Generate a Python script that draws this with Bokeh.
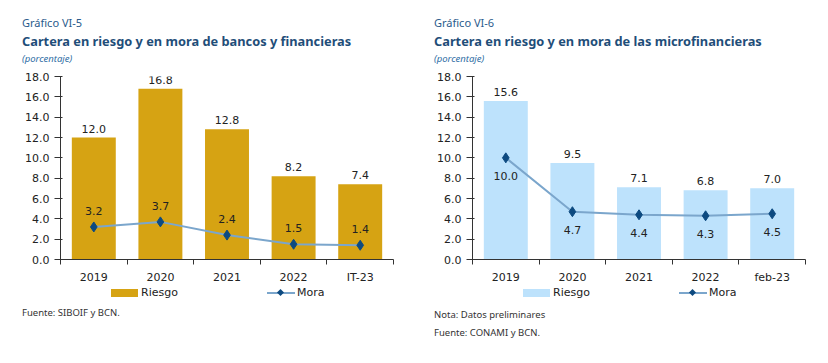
from bokeh.plotting import figure
from bokeh.layouts import row, column
from bokeh.models import (ColumnDataSource, Range1d, FixedTicker, LabelSet,
                          PrintfTickFormatter, Div)
from bokeh.core.properties import value
from bokeh.embed import file_html
from bokeh.resources import INLINE

categories_a = ["2019", "2020", "2021", "2022", "IT-23"]
riesgo_a = [12.0, 16.8, 12.8, 8.2, 7.4]
mora_a = [3.2, 3.7, 2.4, 1.5, 1.4]

categories_b = ["2019", "2020", "2021", "2022", "feb-23"]
riesgo_b = [15.6, 9.5, 7.1, 6.8, 7.0]
mora_b = [10.0, 4.7, 4.4, 4.3, 4.5]

y_ticks = [0, 2, 4, 6, 8, 10, 12, 14, 16, 18]

TICK_FONT = "DejaVu Sans"
HEAD_FONT = "Noto Sans"
TXT = "#222222"
LINE_COLOR = "#7BA6CC"
MARK_COLOR = "#0D4A80"


def header_div(gtitle, title, width, pad):
    html = (
        f'<div style="padding-top:14px;padding-left:{pad}px;font-family:\'{HEAD_FONT}\';'
        f'white-space:nowrap;">'
        f'<div style="font-size:11px;line-height:18px;color:#2A5B8C;">{gtitle}</div>'
        f'<div style="font-size:12.8px;line-height:18px;font-weight:bold;color:#1F4E79;">{title}</div>'
        f'<div style="font-size:9.5px;line-height:17px;font-style:italic;color:#2E6DA4;">(porcentaje)</div>'
        f'</div>')
    return Div(text=html, width=width, height=68, margin=0)


def legend_div(bar_color, width, x0):
    f = f"font-family:'{TICK_FONT}';font-size:11px;line-height:14px;color:{TXT};"
    html = (
        f'<div style="position:relative;width:{width}px;height:14px;">'
        f'<div style="position:absolute;left:{x0}px;top:3px;width:27px;height:8px;background:{bar_color};"></div>'
        f'<div style="position:absolute;left:{x0 + 30}px;top:0px;{f}">Riesgo</div>'
        f'<div style="position:absolute;left:{x0 + 156}px;top:6px;width:28px;height:2px;background:{LINE_COLOR};"></div>'
        f'<div style="position:absolute;left:{x0 + 167}px;top:4px;width:5px;height:5px;background:{MARK_COLOR};transform:rotate(45deg);"></div>'
        f'<div style="position:absolute;left:{x0 + 186}px;top:0px;{f}">Mora</div>'
        f'</div>')
    return Div(text=html, width=width, height=14, margin=0)


def notes_div(notes, width, pad, top):
    lines = "".join(f'<div style="line-height:18px;">{t}</div>' for t in notes)
    html = (f'<div style="padding-top:{top}px;padding-left:{pad}px;font-family:\'{HEAD_FONT}\';'
            f'font-size:9.5px;color:#333333;white-space:nowrap;">{lines}</div>')
    return Div(text=html, width=width, height=50, margin=0)


def make_chart(cats, riesgo, mora, bar_color, mora_below, width, left, right):
    n = len(cats)
    pos = [i + 0.5 for i in range(n)]
    src = ColumnDataSource(dict(
        x=pos, riesgo=riesgo, mora=mora,
        rl=[f"{v:.1f}" for v in riesgo], ml=[f"{v:.1f}" for v in mora]))
    p = figure(width=width, height=218, output_backend="svg", toolbar_location=None,
               x_range=Range1d(0, n), y_range=Range1d(0, 18),
               min_border_left=left, min_border_right=right,
               min_border_top=8, min_border_bottom=26)
    p.outline_line_color = None
    p.grid.visible = False

    p.vbar(x="x", top="riesgo", width=0.66, source=src, fill_color=bar_color,
           line_color=None)
    p.line(x="x", y="mora", source=src, line_color=LINE_COLOR, line_width=2)
    p.scatter(x="x", y="mora", source=src, marker="diamond", size=10,
              fill_color=MARK_COLOR, line_color=MARK_COLOR)

    p.add_layout(LabelSet(x="x", y="riesgo", text="rl", source=src, text_align="center",
                          text_baseline="bottom", y_offset=5, text_font=value(TICK_FONT),
                          text_font_size="11px", text_color=TXT))
    p.add_layout(LabelSet(x="x", y="mora", text="ml", source=src, text_align="center",
                          text_baseline="middle", y_offset=(-18 if mora_below else 16),
                          text_font=value(TICK_FONT), text_font_size="11px",
                          text_color=TXT))

    xa = p.xaxis[0]
    xa.ticker = FixedTicker(ticks=pos, minor_ticks=list(range(n + 1)))
    xa.major_label_overrides = {p_: c for p_, c in zip(pos, cats)}
    xa.major_tick_line_color = None
    xa.minor_tick_line_color = "#333333"
    xa.minor_tick_in = 0
    xa.minor_tick_out = 5
    xa.axis_line_color = "#333333"
    xa.major_label_text_font = TICK_FONT
    xa.major_label_text_font_size = "11px"
    xa.major_label_text_color = TXT

    ya = p.yaxis[0]
    ya.ticker = FixedTicker(ticks=y_ticks)
    ya.formatter = PrintfTickFormatter(format="%.1f")
    ya.minor_tick_line_color = None
    ya.axis_line_color = "#333333"
    ya.major_tick_line_color = "#333333"
    ya.major_label_text_font = TICK_FONT
    ya.major_label_text_font_size = "11px"
    ya.major_label_text_color = TXT
    return p


p1 = make_chart(categories_a, riesgo_a, mora_a, "#D6A313", False, 414, 60, 21)
p2 = make_chart(categories_b, riesgo_b, mora_b, "#BDE2FC", True, 410, 58, 19)

col1 = column(header_div("Gráfico VI-5", "Cartera en riesgo y en mora de bancos y financieras", 414, 22),
              p1, legend_div("#D6A313", 414, 111),
              notes_div(["Fuente: SIBOIF y BCN."], 414, 22, 4))
col2 = column(header_div("Gráfico VI-6", "Cartera en riesgo y en mora de las microfinancieras", 410, 20),
              p2, legend_div("#BDE2FC", 410, 109),
              notes_div(["Nota: Datos preliminares", "Fuente: CONAMI y BCN."], 410, 20, 6))

layout = row(col1, col2)
open("out.html", "w").write(file_html(layout, INLINE))
